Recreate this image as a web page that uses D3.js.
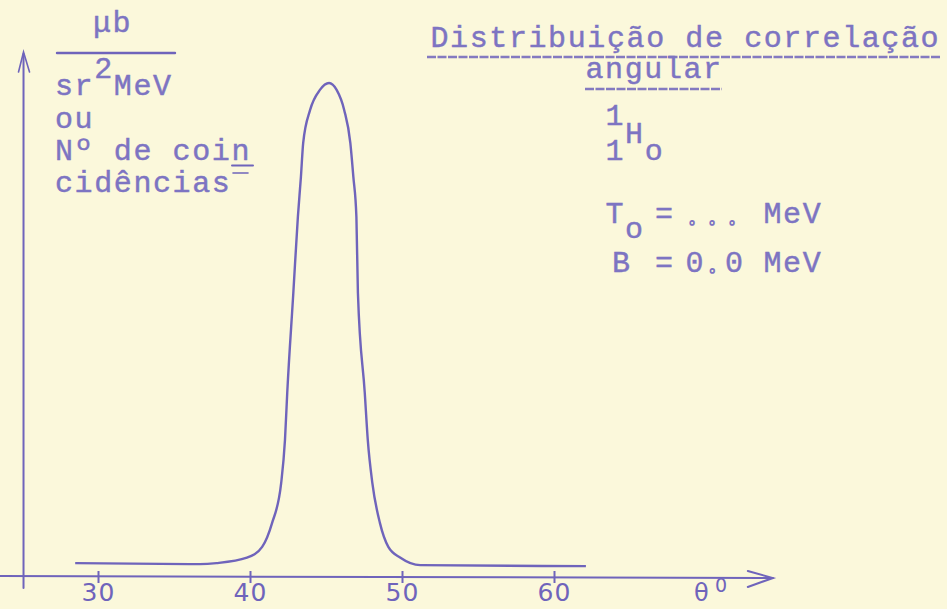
<!DOCTYPE html>
<html>
<head>
<meta charset="utf-8">
<script src="https://cdn.jsdelivr.net/npm/d3@7"></script>
<style>
  html, body { margin: 0; padding: 0; background: #fbf8db; }
  svg { display: block; }
  .tw { font-family: "Liberation Mono", "DejaVu Sans Mono", monospace; font-size: 30px; letter-spacing: 1.6px; fill: #7d74c2; stroke: #7d74c2; stroke-width: 0.45px; }
</style>
</head>
<body>
<svg id="chart" width="947" height="609"></svg>
<script>
// ---- data ----
const xTicks = [30, 40, 50, 60];
const angles = [28.5, 36.7, 37.8, 39.8, 40.8, 41.45, 42.05, 42.3, 42.45, 42.85, 43.15, 43.35, 43.5, 43.95, 44.6,
                45.2, 45.7, 46.2, 46.6, 46.8, 47.0, 47.1, 47.55, 47.75, 48.05, 48.55, 49.1, 49.9, 51.2, 62.1];
const counts = [2.8, 2.6, 2.8, 3.9, 6.1, 10.9, 19.0, 27.7, 37.3, 57.5, 72.9, 81.0, 87.9, 94.5, 98.6,
                100, 98.6, 94.5, 87.9, 81.0, 72.9, 57.5, 37.3, 27.7, 19.0, 10.9, 6.1, 3.9, 2.4, 2.2];
const yLabelLines = ["ou", "Nº de coin", "cidências"];
const titleLines = ["Distribuição de correlação", "angular"];

const INK = "#6f64bb";
const TXT = "#7d74c2";

const svg = d3.select("#chart");
svg.append("rect").attr("width", 947).attr("height", 609).attr("fill", "#fbf8db");

const x = d3.scaleLinear().domain([30, 60]).range([98, 554]);
const y = d3.scaleLinear().domain([0, 100]).range([577, 83]);

// ---- axes ----
const axisY0 = y(0);
const yAxisX = x(25.1);
const g = svg.append("g").attr("stroke", INK).attr("fill", "none").attr("stroke-width", 2).attr("stroke-linecap", "round");
g.append("line").attr("x1", x(23.4)).attr("x2", x(74.4)).attr("y1", axisY0 - 1).attr("y2", axisY0 + 1);
g.append("path").attr("d", `M${x(72.75)},${axisY0 - 6} L${x(74.4)},${axisY0 + 1} L${x(72.75)},${axisY0 + 10}`);
g.append("line").attr("x1", yAxisX).attr("x2", yAxisX).attr("y1", 54).attr("y2", axisY0 + 11);
g.append("path").attr("d", `M${yAxisX - 5},${72} L${yAxisX},${52} L${yAxisX + 6},${72}`).attr("stroke-width", 1.6);

const xAxis = d3.axisBottom(x).tickValues(xTicks).tickFormat(d3.format("d")).tickSize(6);
const ax = svg.append("g").attr("transform", `translate(0,${axisY0})`).call(xAxis);
ax.select(".domain").remove();
ax.selectAll(".tick line").attr("y1", -6).attr("y2", 6).attr("stroke", INK).attr("stroke-width", 2);
ax.selectAll(".tick text")
  .attr("y", 24).attr("dy", 0)
  .attr("fill", INK)
  .attr("font-family", "DejaVu Sans, sans-serif")
  .attr("font-size", 25)
  .attr("letter-spacing", 1);

// theta label
svg.append("text").attr("x", x(69.7)).attr("y", 601).attr("text-anchor", "middle")
  .attr("font-family", "DejaVu Sans, sans-serif").attr("font-size", 24).attr("fill", INK).text("θ");
svg.append("text").attr("x", x(70.6)).attr("y", 592)
  .attr("font-family", "DejaVu Sans, sans-serif").attr("font-size", 19).attr("fill", INK).text("0");

// ---- curve ----
const pts = angles.map((a, i) => [a, counts[i]]);
const line = d3.line().x(d => x(d[0])).y(d => y(d[1])).curve(d3.curveMonotoneX);
svg.append("path").datum(pts).attr("d", line)
  .attr("fill", "none").attr("stroke", INK).attr("stroke-width", 2.4).attr("stroke-linejoin", "round");

// ---- left label block ----
const pitch = 19.6;
const lx = 55;
svg.append("text").attr("class", "tw").attr("x", 93).attr("y", 32).text("μb");
g.append("line").attr("x1", 57).attr("x2", 175).attr("y1", 53).attr("y2", 53).attr("stroke-width", 2.4);
svg.append("text").attr("class", "tw").attr("x", lx).attr("y", 95).text("sr");
svg.append("text").attr("class", "tw").attr("x", lx + 2 * pitch).attr("y", 78).text("2");
svg.append("text").attr("class", "tw").attr("x", lx + 3 * pitch).attr("y", 95).text("MeV");
[128, 160, 192].forEach((yy, i) => {
  svg.append("text").attr("class", "tw").attr("x", lx).attr("y", yy).text(yLabelLines[i]);
});
g.append("line").attr("x1", 232).attr("x2", 253).attr("y1", 165.5).attr("y2", 165.5).attr("stroke-width", 2);
g.append("line").attr("x1", 233).attr("x2", 248).attr("y1", 173).attr("y2", 173).attr("stroke-width", 1.6);

// ---- title block ----
svg.append("text").attr("class", "tw").attr("x", 430.5).attr("y", 47).text(titleLines[0]);
g.append("line").attr("x1", 427).attr("x2", 940).attr("y1", 57).attr("y2", 57)
  .attr("stroke-width", 2.4).attr("stroke-dasharray", "9 1.5").attr("stroke-linecap", "butt").attr("opacity", 0.85);
svg.append("text").attr("class", "tw").attr("x", 585.5).attr("y", 78).text(titleLines[1]);
g.append("line").attr("x1", 585).attr("x2", 722).attr("y1", 89).attr("y2", 89)
  .attr("stroke-width", 2.4).attr("stroke-dasharray", "9 1.5").attr("stroke-linecap", "butt").attr("opacity", 0.85);

// nuclide
const nx = 605.5;
svg.append("text").attr("class", "tw").attr("x", nx).attr("y", 125).text("1");
svg.append("text").attr("class", "tw").attr("x", nx + pitch).attr("y", 143).attr("font-size", 25).text("H");
svg.append("text").attr("class", "tw").attr("x", nx).attr("y", 160).text("1");
svg.append("text").attr("class", "tw").attr("x", nx + 2 * pitch).attr("y", 160).text("o");

// T0 line
svg.append("text").attr("class", "tw").attr("x", nx).attr("y", 223).text("T");
svg.append("text").attr("class", "tw").attr("x", nx + pitch).attr("y", 238).text("o");
svg.append("text").attr("class", "tw").attr("x", 655).attr("y", 223).text("=");
const dots = svg.append("text").attr("y", 225)
  .attr("font-family", "Noto Sans, sans-serif").attr("font-size", 30).attr("text-anchor", "middle")
  .attr("fill", "none").attr("stroke", TXT).attr("stroke-width", 1.7);
[692, 712, 732].forEach(cx => dots.append("tspan").attr("x", cx).text("."));
svg.append("text").attr("class", "tw").attr("x", 763.5).attr("y", 223).text("MeV");

// B line
svg.append("text").attr("class", "tw").attr("x", 612).attr("y", 272).text("B");
svg.append("text").attr("class", "tw").attr("x", 655).attr("y", 272).text("=");
const zt = svg.append("text").attr("class", "tw").attr("y", 272);
zt.append("tspan").attr("x", 685.5).text("0");
zt.append("tspan").attr("x", 713).attr("y", 273).attr("text-anchor", "middle")
  .attr("font-family", "Noto Sans, sans-serif").attr("font-size", 30)
  .attr("fill", "none").attr("stroke-width", 1.7).text(".");
zt.append("tspan").attr("x", 725).attr("y", 272).text("0");
svg.append("text").attr("class", "tw").attr("x", 763.5).attr("y", 272).text("MeV");
</script>
</body>
</html>
